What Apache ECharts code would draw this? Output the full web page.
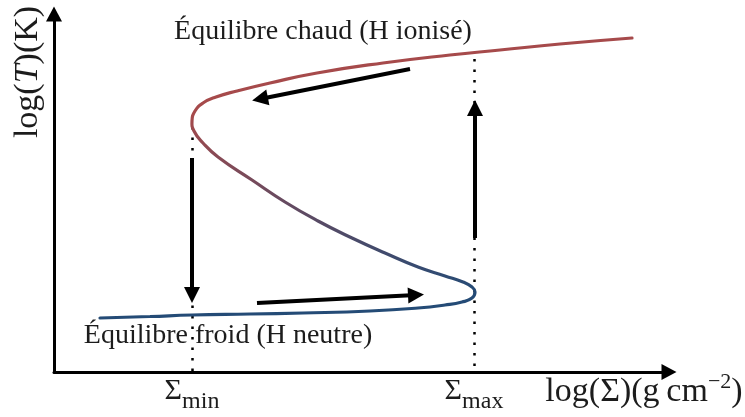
<!DOCTYPE html>
<html>
<head>
<meta charset="utf-8">
<script src="https://cdn.jsdelivr.net/npm/echarts@6/dist/echarts.min.js"></script>
<style>html,body{margin:0;padding:0;background:#fff}#c{width:745px;height:417px}</style>
</head>
<body>
<div id="c"></div>
<script>
// S-curve: log(Sigma) (arbitrary units) vs log(T) (arbitrary units)
const curveX = [46, 96, 138, 196, 249, 316, 364, 391, 408, 418, 421, 418, 409, 391, 364, 331, 298, 264, 231, 198, 164, 149, 140, 138, 141, 149, 162, 183, 216, 263, 329, 396, 446, 506, 578];
const curveY = [54, 55.5, 57, 58, 59, 61, 64, 67, 70, 74, 80, 85, 90, 96, 105, 119, 134, 151, 170, 192, 215, 229, 241, 251, 261, 269, 275, 281, 289, 299, 309, 317, 322, 328, 334];

// critical points
const sigmaX = [138, 420];
const sigmaNames = ['min', 'max'];
const guideTop = [245, 313];

// limit-cycle arrows (from -> to)
const arrowFrom = [[356, 303], [138, 214], [203, 69], [421, 134]];
const arrowTo = [[206, 273], [138, 77], [362, 77], [421, 264]];

const labelHot = 'Équilibre chaud (H ionisé)';
const labelCold = 'Équilibre froid (H neutre)';

const RED = '#a64a4b';
const BLUE = '#244b76';
const FONT = 'Liberation Serif';
const TXT = '#1c1c1c';

const chart = echarts.init(document.getElementById('c'), null, {renderer: 'canvas'});

const curveGradient = new echarts.graphic.LinearGradient(0, 0, 0, 1, [
  {offset: 0, color: RED}, {offset: 0.28, color: RED},
  {offset: 0.9, color: BLUE}, {offset: 1, color: BLUE}
]);

const option = {
  animation: false,
  backgroundColor: '#fff',
  grid: {left: 54, top: 14, width: 615, height: 358, containLabel: false, outerBoundsMode: 'none'},
  xAxis: {
    type: 'value', min: 0, max: 615,
    axisLine: {show: true, onZero: false, lineStyle: {color: '#000', width: 3}, symbol: ['none', 'triangle'], symbolSize: [16, 15]},
    axisTick: {show: false},
    splitLine: {show: false},
    axisLabel: {
      show: true, customValues: sigmaX, margin: 4, color: TXT,
      formatter: function (v) {
        const i = sigmaX.indexOf(v);
        return '{s|Σ}{m|' + sigmaNames[i] + '}';
      },
      rich: {
        s: {fontFamily: FONT, fontSize: 30, verticalAlign: 'top', color: TXT},
        m: {fontFamily: FONT, fontSize: 24, verticalAlign: 'top', padding: [14, 0, 0, 0], color: TXT}
      }
    }
  },
  yAxis: {
    type: 'value', min: 0, max: 358,
    axisLine: {show: true, onZero: false, lineStyle: {color: '#000', width: 3}, symbol: ['none', 'triangle'], symbolSize: [16, 15]},
    axisTick: {show: false},
    splitLine: {show: false},
    axisLabel: {show: false}
  },
  series: [
    {
      type: 'lines', coordinateSystem: 'cartesian2d', silent: true, z: 1,
      symbol: ['none', 'none'],
      lineStyle: {color: '#000', width: 2.5, type: [2.5, 8], opacity: 1},
      data: sigmaX.map((x, i) => ({coords: [[x, guideTop[i]], [x, 0]]}))
    },
    {
      type: 'custom', coordinateSystem: 'cartesian2d', silent: true, z: 3,
      data: curveX.map((x, i) => [x, curveY[i]]),
      renderItem: function (params, api) {
        if (params.dataIndex !== 0) return null;
        const pts = curveX.map((x, i) => api.coord([x, curveY[i]]));
        return {
          type: 'polyline',
          shape: {points: pts, smooth: 0.5},
          style: {fill: null, stroke: curveGradient, lineWidth: 3.2, lineJoin: 'round', lineCap: 'round'}
        };
      }
    },
    {
      type: 'lines', coordinateSystem: 'cartesian2d', silent: true, z: 4,
      symbol: ['none', 'triangle'], symbolSize: [0, 16],
      lineStyle: {color: '#000', width: 4, opacity: 1},
      data: arrowFrom.map((p, i) => ({coords: [p, arrowTo[i]]}))
    }
  ],
  graphic: [
    {type: 'text', x: 323, y: 32, style: {text: labelHot, font: '28px "' + FONT + '"', fill: TXT, align: 'center', verticalAlign: 'middle'}},
    {type: 'text', x: 228, y: 336, style: {text: labelCold, font: '28px "' + FONT + '"', fill: TXT, align: 'center', verticalAlign: 'middle'}},
    {type: 'text', x: 28, y: 72, rotation: Math.PI / 2, style: {
      text: '{n|log(}{i|T}{n|)(K)}', align: 'center', verticalAlign: 'middle',
      rich: {n: {fontFamily: FONT, fontSize: 34, fill: TXT}, i: {fontFamily: FONT, fontSize: 34, fontStyle: 'italic', fill: TXT}}
    }},
    {type: 'text', x: 644, y: 390, style: {
      text: '{n|log(Σ)(g\u2009cm}{p|−2}{n|)}', align: 'center', verticalAlign: 'middle',
      rich: {
        n: {fontFamily: FONT, fontSize: 34, lineHeight: 38, verticalAlign: 'bottom', fill: TXT},
        p: {fontFamily: FONT, fontSize: 22, lineHeight: 14, verticalAlign: 'top', fill: TXT}
      }
    }}
  ]
};
chart.setOption(option);
</script>
</body>
</html>
